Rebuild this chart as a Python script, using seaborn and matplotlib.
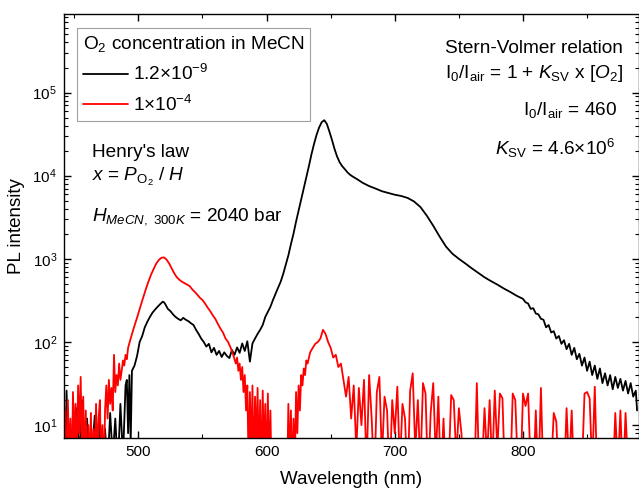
import matplotlib
matplotlib.use("Agg")
import matplotlib.pyplot as plt
import pandas as pd
import seaborn as sns
from matplotlib.lines import Line2D
from matplotlib.ticker import LogLocator, MultipleLocator, NullFormatter

# (wavelength nm, PL intensity); values below the
# axis floor (~7) stand for noise that drops out of view
black_points = [
    (442, 20), (443, 3), (444, 26), (446, 2), (448, 8), (450, 3), (452, 16), (454, 4), (456, 20), (458, 3),
    (460, 12), (462, 2), (464, 5), (466, 13), (468, 3), (470, 11), (472, 2), (474, 9), (476, 3), (478, 14),
    (480, 4), (482, 12), (484, 3), (486, 18), (488, 4), (490, 30), (491, 35), (492, 8), (493, 40), (494, 6),
    (495, 45), (497, 52), (499, 68), (501, 100), (503, 118), (505, 150), (507, 175), (509, 200), (511, 225), (513, 245),
    (515, 265), (517, 285), (519, 305), (520, 300), (521, 285), (523, 250), (525, 235), (527, 215), (529, 200), (531, 190),
    (533, 182), (535, 195), (537, 185), (539, 178), (541, 168), (543, 160), (545, 140), (547, 125), (549, 110), (551, 100),
    (553, 88), (555, 95), (557, 75), (559, 85), (561, 70), (563, 78), (565, 66), (567, 75), (569, 68), (571, 64),
    (573, 80), (575, 70), (577, 86), (579, 74), (581, 96), (583, 78), (585, 102), (587, 58), (589, 96), (591, 110),
    (593, 125), (595, 140), (597, 160), (599, 200), (601, 230), (603, 265), (605, 320), (607, 380), (609, 450), (611, 530),
    (613, 660), (615, 850), (617, 1100), (619, 1500), (621, 2000), (623, 2800), (625, 3800), (627, 5200), (629, 7000), (631, 9500),
    (633, 13000), (635, 18000), (637, 24000), (639, 31000), (641, 38000), (643, 44000), (645, 46500), (647, 42000), (649, 34000), (651, 27000),
    (653, 21000), (655, 17000), (657, 14500), (659, 13000), (661, 12000), (663, 11000), (665, 10300), (667, 9800), (669, 9400), (671, 9000),
    (675, 8200), (680, 7500), (685, 7000), (690, 6500), (695, 6200), (700, 5900), (705, 5700), (710, 5400), (715, 4900), (720, 4200),
    (725, 3300), (730, 2500), (735, 1850), (740, 1400), (745, 1150), (750, 1000), (755, 880), (760, 770), (765, 680), (770, 600),
    (775, 540), (780, 490), (785, 440), (790, 400), (795, 360), (800, 330), (802, 300), (804, 290), (806, 250), (808, 255),
    (810, 220), (812, 215), (814, 190), (816, 185), (818, 150), (820, 160), (822, 130), (824, 135), (826, 110), (828, 118),
    (830, 95), (832, 105), (834, 82), (836, 95), (838, 70), (840, 85), (842, 62), (844, 72), (846, 52), (848, 65),
    (850, 45), (852, 58), (854, 40), (856, 52), (858, 36), (860, 48), (862, 32), (864, 42), (866, 30), (868, 40),
    (870, 27), (872, 38), (874, 28), (876, 36), (878, 26), (880, 34), (882, 24), (884, 32), (886, 22), (888, 26),
    (889, 15),
]

red_points = [
    (442, 3), (443, 15), (444, 2), (445, 20), (446, 4), (447, 12), (448, 2), (449, 25), (450, 6), (451, 18),
    (452, 3), (453, 30), (454, 8), (455, 38), (456, 5), (457, 22), (458, 3), (459, 15), (460, 2), (461, 10),
    (462, 3), (463, 14), (464, 2), (465, 9), (466, 3), (467, 18), (468, 4), (469, 12), (470, 20), (471, 3),
    (472, 10), (473, 2), (474, 15), (475, 30), (476, 12), (477, 35), (478, 18), (479, 28), (480, 15), (481, 70),
    (482, 25), (483, 40), (484, 30), (485, 55), (486, 35), (487, 45), (488, 60), (489, 52), (490, 70), (491, 62),
    (492, 85), (494, 110), (496, 140), (498, 175), (500, 220), (502, 280), (504, 350), (506, 440), (508, 540), (510, 650),
    (512, 760), (514, 880), (516, 970), (518, 1030), (520, 1040), (522, 980), (524, 880), (526, 770), (528, 670), (530, 600),
    (532, 560), (534, 530), (536, 510), (538, 490), (540, 470), (542, 430), (544, 400), (546, 370), (548, 340), (550, 320),
    (552, 290), (554, 260), (556, 235), (558, 210), (560, 190), (562, 165), (564, 145), (566, 130), (568, 110), (570, 100),
    (572, 85), (574, 70), (576, 55), (577, 65), (578, 45), (579, 55), (580, 35), (581, 50), (582, 25), (583, 40),
    (584, 15), (585, 30), (586, 3), (587, 25), (588, 4), (589, 30), (590, 2), (591, 22), (592, 5), (593, 28),
    (594, 3), (595, 20), (596, 2), (597, 26), (598, 4), (599, 18), (600, 2), (601, 24), (602, 3), (603, 15),
    (604, 2), (605, 3), (608, 2), (611, 2), (614, 3), (616, 2), (617, 18), (618, 3), (619, 15), (620, 2),
    (621, 12), (622, 3), (623, 25), (624, 8), (625, 30), (626, 15), (627, 40), (628, 30), (629, 48), (630, 40),
    (631, 60), (632, 55), (634, 75), (636, 85), (638, 95), (640, 100), (642, 110), (644, 140), (646, 125), (648, 100),
    (650, 85), (652, 65), (654, 70), (656, 50), (658, 55), (660, 35),
    (662, 22), (664, 38), (666, 12), (668, 30), (670, 5), (672, 28), (674, 10), (676, 35), (678, 3), (680, 40),
    (682, 12), (684, 2), (686, 25), (688, 38), (690, 4), (692, 22), (694, 15), (696, 2), (698, 20), (700, 8),
    (702, 29), (704, 3), (706, 18), (708, 12), (710, 2), (712, 26), (714, 42), (716, 5), (718, 20), (720, 3),
    (722, 32), (724, 24), (726, 2), (728, 14), (730, 32), (732, 4), (734, 22), (736, 2), (738, 12), (740, 2),
    (742, 3), (744, 23), (746, 20), (748, 4), (750, 16), (752, 8), (754, 2), (756, 3), (758, 2), (760, 3),
    (762, 2), (764, 32), (766, 2), (768, 3), (770, 16), (772, 4), (774, 20), (776, 3), (778, 26), (780, 5),
    (782, 24), (784, 21), (786, 2), (788, 3), (790, 2), (792, 24), (794, 20), (796, 3), (798, 2), (800, 24),
    (802, 17), (804, 24), (806, 3), (808, 2), (810, 15), (812, 2), (814, 28), (816, 2), (818, 3), (820, 2),
    (822, 3), (824, 14), (826, 11), (828, 2), (830, 3), (832, 2), (834, 16), (836, 3), (838, 15), (840, 2),
    (842, 3), (844, 2), (846, 3), (848, 24), (850, 25), (852, 21), (854, 3), (856, 29), (858, 2), (860, 3),
    (862, 2), (864, 3), (866, 2), (868, 3), (870, 2), (872, 14), (874, 3), (876, 15), (878, 2), (880, 14),
    (882, 3), (884, 2), (886, 3), (888, 2), (890, 2),
]

series_labels = [r"$1.2{\times}10^{-9}$", r"$1{\times}10^{-4}$"]
series_colors = ["black", "red"]

sns.set_theme(style="ticks")
plt.rcParams["font.family"] = ["Liberation Sans", "DejaVu Sans"]
plt.rcParams["mathtext.fontset"] = "custom"
plt.rcParams["mathtext.rm"] = "Liberation Sans"
plt.rcParams["mathtext.it"] = "Liberation Sans:italic"
plt.rcParams["mathtext.bf"] = "Liberation Sans:bold"
plt.rcParams["text.color"] = "black"
plt.rcParams["axes.labelcolor"] = "black"
plt.rcParams["xtick.color"] = "black"
plt.rcParams["ytick.color"] = "black"

fig = plt.figure(figsize=(6.39, 4.91), dpi=100)
ax = fig.add_axes([64 / 639, 53 / 491, 575 / 639, 424 / 491])
ax.set_yscale("log")

for points, color in zip([black_points, red_points], series_colors):
    df = pd.DataFrame(points, columns=["wavelength", "pl"])
    sns.lineplot(data=df, x="wavelength", y="pl", color=color, lw=1.3,
                 estimator=None, sort=False, ax=ax)

ax.set_xlim(442, 890.5)
ax.set_ylim(7, 8.8e5)
ax.xaxis.set_major_locator(MultipleLocator(100))
ax.xaxis.set_minor_locator(MultipleLocator(50))
ax.yaxis.set_major_locator(LogLocator(base=10))
ax.yaxis.set_minor_locator(LogLocator(base=10, subs=range(2, 10)))
ax.yaxis.set_minor_formatter(NullFormatter())
ax.tick_params(which="both", direction="in", top=True, right=True,
               labelsize=11, pad=5)
ax.tick_params(which="major", length=5, width=1)
ax.tick_params(which="minor", length=3, width=0.8)
for spine in ax.spines.values():
    spine.set_color("black")
    spine.set_linewidth(1)

ax.set_xlabel("Wavelength (nm)", fontsize=13.5, labelpad=9)
ax.set_ylabel("PL intensity", fontsize=13.5, labelpad=5)

fs = 13.7
handles = [Line2D([], [], color=c, lw=1.3) for c in series_colors]
leg = ax.legend(handles, series_labels, title=r"O$_2$ concentration in MeCN",
                loc="upper left", bbox_to_anchor=(13 / 575, (438 - 28) / 424),
                borderaxespad=0, fontsize=fs, title_fontsize=fs,
                handlelength=2.4, handletextpad=0.25, labelspacing=0.55,
                borderpad=0.3, fancybox=False, frameon=True,
                alignment="left")
leg.get_frame().set_edgecolor("#888888")
leg.get_frame().set_linewidth(0.8)


def px(x, y):
    return x / 639, 1 - y / 491


fig.text(*px(92, 157), "Henry's law", fontsize=fs, va="baseline")
fig.text(*px(92, 181), r"$x$ = $P_{\mathrm{O}_2}$ / $H$", fontsize=fs, va="baseline")
fig.text(*px(92, 221), r"$H_{\mathit{MeCN,\ 300K}}$ = 2040 bar", fontsize=fs, va="baseline")

fig.text(*px(623, 53), "Stern-Volmer relation", fontsize=fs, ha="right", va="baseline")
fig.text(*px(623, 78), r"I$_0$/I$_{\mathrm{air}}$ = 1 + $K_{\mathrm{SV}}$ x [$O_2$]",
         fontsize=fs, ha="right", va="baseline")
fig.text(*px(617, 115), r"I$_0$/I$_{\mathrm{air}}$ = 460", fontsize=fs, ha="right", va="baseline")
fig.text(*px(615, 155), r"$K_{\mathrm{SV}}$ = 4.6$\times$10$^6$", fontsize=fs, ha="right", va="baseline")

fig.savefig("out.png", dpi=100)
plt.close(fig)
